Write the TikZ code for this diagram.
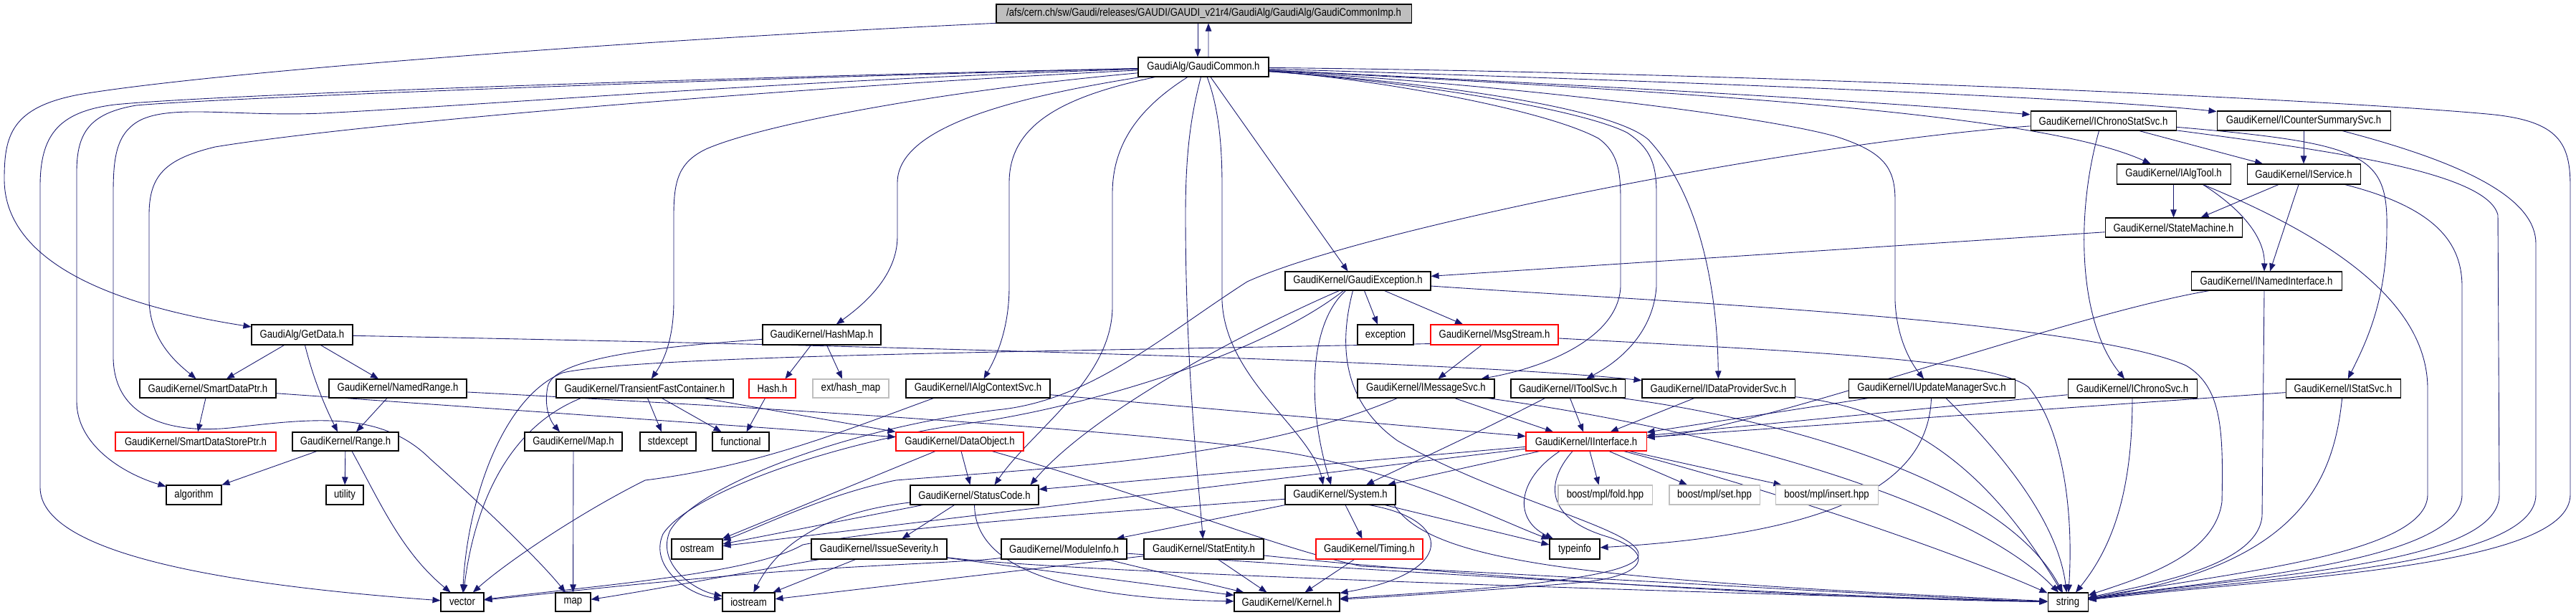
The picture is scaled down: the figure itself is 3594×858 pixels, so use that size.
\documentclass[tikz,border=0pt]{standalone}
\usepackage{fontspec}
\setmainfont{Liberation Sans}[FakeStretch=0.85]
\usetikzlibrary{arrows.meta,calc}
\pgfdeclarelayer{bg}
\pgfsetlayers{bg,main}
\definecolor{edgec}{HTML}{191970}
\definecolor{gfill}{HTML}{BFBFBF}
\definecolor{gbord}{HTML}{BFBFBF}
\newcommand\bx[7]{%
  \pgfmathsetmacro\bxw{(#4-#2)*0.02}%
  \pgfmathsetmacro\bxh{(#5-#3)*0.02}%
  \node[#6, minimum width=\bxw cm, minimum height=\bxh cm] (#1) at ({(#2+#4)/2},{(#3+#5)/2}) {#7};}
\begin{document}
\begin{tikzpicture}[x=0.02cm,y=-0.02cm,
  box/.style={draw=black,fill=white,line width=0.6pt,inner sep=0pt,font=\fontsize{8.8}{9}\selectfont},
  redbox/.style={box,draw=red},
  graybox/.style={box,draw=gbord},
  topbox/.style={box,fill=gfill},
  e/.style={draw=edgec,line width=0.5pt,-{Triangle[length=0.22cm,width=0.17cm]}}]
\useasboundingbox (0,0) rectangle (3594,858);
\bx{T}{1390}{6}{1969}{32}{topbox}{/afs/cern.ch/sw/Gaudi/releases/GAUDI/GAUDI\_v21r4/GaudiAlg/GaudiAlg/GaudiCommonImp.h}
\bx{GC}{1588}{80}{1770}{107}{box}{GaudiAlg/GaudiCommon.h}
\bx{GExc}{1793}{379}{1996}{405}{box}{GaudiKernel/GaudiException.h}
\bx{ICSS}{2833}{155}{3036}{182}{box}{GaudiKernel/IChronoStatSvc.h}
\bx{ICntS}{3093}{155}{3335}{182}{box}{GaudiKernel/ICounterSummarySvc.h}
\bx{IAlgTool}{2953}{229}{3112}{257}{box}{GaudiKernel/IAlgTool.h}
\bx{IService}{3135}{229}{3293}{257}{box}{GaudiKernel/IService.h}
\bx{StateM}{2937}{304}{3128}{331}{box}{GaudiKernel/StateMachine.h}
\bx{INamed}{3057}{379}{3267}{405}{box}{GaudiKernel/INamedInterface.h}
\bx{GetData}{351}{453}{492}{481}{box}{GaudiAlg/GetData.h}
\bx{SDP}{195}{529}{385}{555}{box}{GaudiKernel/SmartDataPtr.h}
\bx{NRange}{459}{529}{651}{555}{box}{GaudiKernel/NamedRange.h}
\bx{TFC}{776}{529}{1023}{555}{box}{GaudiKernel/TransientFastContainer.h}
\bx{SDSP}{161}{603}{385}{629}{redbox}{GaudiKernel/SmartDataStorePtr.h}
\bx{Range}{408}{603}{556}{629}{box}{GaudiKernel/Range.h}
\bx{Map}{732}{603}{868}{629}{box}{GaudiKernel/Map.h}
\bx{algorithm}{232}{677}{309}{704}{box}{algorithm}
\bx{utility}{455}{677}{507}{704}{box}{utility}
\bx{vector}{615}{827}{675}{853}{box}{vector}
\bx{map}{775}{827}{824}{853}{box}{map}
\bx{HashMap}{1064}{453}{1229}{481}{box}{GaudiKernel/HashMap.h}
\bx{Hash}{1045}{529}{1110}{555}{redbox}{Hash.h}
\bx{exthash}{1134}{529}{1240}{555}{graybox}{ext/hash\_map}
\bx{IACS}{1264}{529}{1465}{555}{box}{GaudiKernel/IAlgContextSvc.h}
\bx{stdexcept}{893}{603}{971}{629}{box}{stdexcept}
\bx{functional}{994}{603}{1073}{629}{box}{functional}
\bx{DataObj}{1250}{603}{1428}{629}{redbox}{GaudiKernel/DataObject.h}
\bx{StatusCode}{1270}{677}{1449}{704}{box}{GaudiKernel/StatusCode.h}
\bx{ostream}{937}{752}{1008}{780}{box}{ostream}
\bx{IssueSev}{1132}{752}{1321}{780}{box}{GaudiKernel/IssueSeverity.h}
\bx{ModInfo}{1397}{752}{1572}{780}{box}{GaudiKernel/ModuleInfo.h}
\bx{StatEnt}{1596}{752}{1763}{780}{box}{GaudiKernel/StatEntity.h}
\bx{iostream}{1008}{827}{1081}{853}{box}{iostream}
\bx{Kernel}{1722}{827}{1869}{853}{box}{GaudiKernel/Kernel.h}
\bx{exception}{1894}{453}{1972}{481}{box}{exception}
\bx{MsgStream}{1996}{453}{2174}{481}{redbox}{GaudiKernel/MsgStream.h}
\bx{IMsgSvc}{1894}{529}{2085}{555}{box}{GaudiKernel/IMessageSvc.h}
\bx{IToolSvc}{2108}{529}{2267}{555}{box}{GaudiKernel/IToolSvc.h}
\bx{IDPS}{2291}{529}{2504}{555}{box}{GaudiKernel/IDataProviderSvc.h}
\bx{IUMS}{2579}{529}{2811}{555}{box}{GaudiKernel/IUpdateManagerSvc.h}
\bx{IIface}{2129}{603}{2297}{629}{redbox}{GaudiKernel/IInterface.h}
\bx{System}{1793}{677}{1947}{704}{box}{GaudiKernel/System.h}
\bx{fold}{2174}{677}{2305}{704}{graybox}{boost/mpl/fold.hpp}
\bx{set}{2329}{677}{2455}{704}{graybox}{boost/mpl/set.hpp}
\bx{insert}{2477}{677}{2620}{704}{graybox}{boost/mpl/insert.hpp}
\bx{Timing}{1836}{752}{1985}{780}{redbox}{GaudiKernel/Timing.h}
\bx{typeinfo}{2162}{752}{2232}{780}{box}{typeinfo}
\bx{IChronoSvc}{2885}{529}{3065}{555}{box}{GaudiKernel/IChronoSvc.h}
\bx{IStatSvc}{3189}{529}{3349}{555}{box}{GaudiKernel/IStatSvc.h}
\bx{string}{2857}{827}{2913}{853}{box}{string}
\begin{pgfonlayer}{bg}
\fill[white] (0,0) rectangle (3594,858);
% top node
\draw[e] ($(T.south)+(-8.5,0)$) -- ($(GC.north)+(-8,0)$);
\draw[e] ($(GC.north)+(7,0)$) -- ($(T.south)+(6.5,0)$);
\draw[e] (T) .. controls (900,55) and (300,100) .. (110,132) .. controls (15,150) and (6,190) .. (6,250) .. controls (6,350) and (120,420) .. (GetData);
% GaudiCommon left
\draw[e] (GC) .. controls (1000,108) and (300,132) .. (160,146) .. controls (80,156) and (56,190) .. (56,260) -- (56,680) .. controls (56,770) and (300,815) .. (vector);
\draw[e] (GC) .. controls (1000,110) and (300,137) .. (190,147) .. controls (125,158) and (107,185) .. (107,240) -- (107,560) .. controls (107,620) and (170,660) .. (algorithm);
\draw[e] (GC) .. controls (1100,112) and (700,145) .. (450,158) .. controls (330,163) and (240,145) .. (195,168) .. controls (162,186) and (158,220) .. (158,270) -- (158,500) .. controls (160,585) and (240,605) .. (321,597) .. controls (430,585) and (530,570) .. (600,640) .. controls (690,720) and (760,790) .. (map);
\draw[e] (GC) .. controls (1100,122) and (500,172) .. (300,205) .. controls (230,222) and (208,245) .. (208,300) -- (208,420) .. controls (210,475) and (245,505) .. (SDP);
\draw[e] (GC) .. controls (1300,128) and (1060,175) .. (985,208) .. controls (948,226) and (940,250) .. (940,300) -- (940,420) .. controls (940,475) and (925,505) .. (TFC);
\draw[e] (GC) .. controls (1400,138) and (1252,180) .. (1252,255) -- (1252,330) .. controls (1252,385) and (1205,425) .. (HashMap);
\draw[e] (GC) .. controls (1480,135) and (1408,175) .. (1408,255) -- (1408,400) .. controls (1408,455) and (1392,495) .. (IACS);
\draw[e] (GC) .. controls (1590,150) and (1552,200) .. (1552,270) -- (1552,430) .. controls (1550,530) and (1440,600) .. ($(StatusCode.north)+(28,0)$);
\draw[e] (GC) .. controls (1662,160) and (1654,210) .. (1654,300) .. controls (1654,500) and (1670,650) .. (StatEnt);
\draw[e] (GC) .. controls (1700,150) and (1705,200) .. (1705,260) -- (1705,420) .. controls (1710,530) and (1830,600) .. ($(System.north)+(-24,0)$);
\draw[e] ($(GC.south)+(10,0)$) -- ($(GExc.north)+(-14,0)$);
% GaudiCommon right
\draw[e] (GC) .. controls (1900,108) and (2150,150) .. (2230,193) .. controls (2258,213) and (2261,240) .. (2261,280) -- (2261,400) .. controls (2258,470) and (2160,512) .. (IMsgSvc);
\draw[e] (GC) .. controls (1950,112) and (2200,150) .. (2270,185) .. controls (2305,208) and (2311,232) .. (2311,270) -- (2311,400) .. controls (2306,470) and (2252,508) .. (IToolSvc);
\draw[e] (GC) .. controls (2000,115) and (2250,150) .. (2300,195) .. controls (2370,270) and (2396,400) .. (IDPS);
\draw[e] (GC) .. controls (2100,118) and (2450,160) .. (2560,190) .. controls (2630,212) and (2644,235) .. (2644,280) -- (2644,420) .. controls (2646,470) and (2665,505) .. (IUMS);
\draw[e] (GC) .. controls (2400,130) and (2850,160) .. (IAlgTool);
\draw[e] (GC) .. controls (2200,118) and (2600,140) .. (ICSS);
\draw[e] (GC) .. controls (2300,112) and (2900,135) .. (ICntS);
\draw[e] (GC) .. controls (2500,102) and (3300,142) .. (3480,160) .. controls (3570,170) and (3586,200) .. (3586,260) -- (3586,690) .. controls (3586,790) and (3200,805) .. (string);
% right cluster
\draw[e] ($(ICSS.south)+(50,0)$) -- ($(IService.north)+(-57,0)$);
\draw[e] (ICntS) -- (IService);
\draw[e] ($(ICSS.south)+(-6,0)$) .. controls (2895,300) and (2900,450) .. (IChronoSvc);
\draw[e] (ICSS) .. controls (3300,200) and (3332,215) .. (3330,320) .. controls (3330,420) and (3300,480) .. (IStatSvc);
\draw[e] (ICSS) .. controls (3250,210) and (3470,240) .. (3485,300) -- (3487,690) .. controls (3487,790) and (3150,802) .. (string);
\draw[e] (ICSS) .. controls (2500,200) and (1900,320) .. (1740,393) .. controls (1620,470) and (1520,560) .. (1390,572) .. controls (1170,600) and (970,680) .. (935,740) .. controls (915,785) and (965,822) .. (iostream);
\draw[e] (IAlgTool) -- (StateM);
\draw[e] ($(IService.south)+(-35,0)$) -- ($(StateM.north)+(38,0)$);
\draw[e] ($(IAlgTool.south)+(41,0)$) .. controls (3140,300) and (3160,340) .. ($(INamed.north)+(-3,0)$);
\draw[e] ($(IService.south)+(-7,0)$) -- ($(INamed.north)+(5,0)$);
\draw[e] (IService) .. controls (3400,290) and (3435,340) .. (3435,400) -- (3435,690) .. controls (3435,785) and (3100,808) .. (string);
\draw[e] (ICntS) .. controls (3450,230) and (3538,280) .. (3538,340) -- (3538,690) .. controls (3538,792) and (3150,806) .. (string);
\draw[e] ($(IAlgTool.south)+(41,0)$) .. controls (3250,330) and (3385,420) .. (3387,540) -- (3387,690) .. controls (3387,775) and (3100,800) .. (string);
\draw[e] (StateM) -- (GExc);
\draw[e] (INamed) .. controls (2880,440) and (2450,600) .. (IIface);
\draw[e] ($(INamed.south)+(-3,0)$) -- (3156,720) .. controls (3150,790) and (3000,815) .. (string);
\draw[e] (IChronoSvc) -- (IIface);
\draw[e] (IChronoSvc) .. controls (2975,680) and (2950,760) .. (string);
\draw[e] (IStatSvc) -- (IIface);
\draw[e] (IStatSvc) .. controls (3255,680) and (3200,790) .. (string);
\draw[e] (IUMS) -- (IIface);
\draw[e] (IUMS) .. controls (2690,680) and (2550,745) .. (typeinfo);
\draw[e] ($(IUMS.south)+(20,0)$) .. controls (2780,620) and (2870,720) .. (string);
\draw[e] (IDPS) -- (IIface);
\draw[e] (IDPS) .. controls (2700,575) and (2800,700) .. (string);
\draw[e] ($(IToolSvc.south)+(3,0)$) -- ($(IIface.north)+(-4,0)$);
\draw[e] ($(IToolSvc.south)+(-32,0)$) .. controls (2050,610) and (1960,650) .. ($(System.north)+(36,0)$);
\draw[e] ($(IToolSvc.south east)+(-5,0)$) .. controls (2450,580) and (2790,660) .. (string);
\draw[e] ($(IMsgSvc.south)+(40,0)$) -- ($(IIface.north)+(-46,0)$);
\draw[e] ($(IMsgSvc.south)+(86,0)$) .. controls (2400,600) and (2750,700) .. (string);
\draw[e] ($(IMsgSvc.south)+(-40,0)$) .. controls (1750,640) and (1500,650) .. (1250,670) .. controls (1150,690) and (1050,740) .. (ostream);
\draw[e] ($(MsgStream.south)+(-18,0)$) -- ($(IMsgSvc.north)+(17,0)$);
\draw[e] ($(MsgStream.south west)+(0,-2)$) .. controls (1500,490) and (900,495) .. (785,520) .. controls (700,555) and (652,700) .. (vector);
\draw[e] (MsgStream) .. controls (2500,490) and (2780,500) .. (2830,540) .. controls (2880,600) and (2893,720) .. (string);
% GaudiException
\draw[e] (GExc) .. controls (2300,420) and (2900,445) .. (3050,510) .. controls (3100,540) and (3102,600) .. (3100,700) .. controls (3090,775) and (2990,805) .. (string);
\draw[e] ($(GExc.south)+(9,0)$) -- ($(exception.north)+(-11,0)$);
\draw[e] ($(GExc.south)+(37,0)$) -- ($(MsgStream.north)+(-44,0)$);
\draw[e] ($(GExc.south)+(-17,0)$) .. controls (1828,450) and (1822,560) .. ($(System.north)+(-13,0)$);
\draw[e] ($(GExc.south)+(-26,0)$) .. controls (1720,470) and (1520,580) .. ($(StatusCode.north)+(78,0)$);
\draw[e] ($(GExc.south)+(-20,0)$) .. controls (1760,495) and (1520,565) .. (1370,588) .. controls (1160,615) and (960,690) .. (925,745) .. controls (905,790) and (960,830) .. (iostream);
\draw[e] ($(GExc.south)+(-7,0)$) .. controls (1868,480) and (1872,560) .. (1950,615) .. controls (2100,700) and (2292,740) .. (2286,775) .. controls (2280,812) and (2000,826) .. (Kernel);
% IInterface
\draw[e] ($(IIface.south)+(5,0)$) -- ($(fold.north)+(-9,0)$);
\draw[e] ($(IIface.south)+(32,0)$) -- ($(set.north)+(-38,0)$);
\draw[e] ($(IIface.south)+(60,0)$) -- ($(insert.north)+(-63,0)$);
\draw[e] ($(IIface.south)+(-37,0)$) .. controls (2115,670) and (2112,725) .. (typeinfo);
\draw[e] ($(IIface.south)+(-19,0)$) .. controls (2150,680) and (2165,725) .. (2240,748) .. controls (2312,770) and (2300,805) .. (2200,813) .. controls (2100,822) and (1950,832) .. (Kernel);
\draw[e] ($(IIface.south)+(-65,0)$) -- ($(System.north)+(66,0)$);
\draw[e] (IIface) -- (StatusCode);
\draw[e] (IIface) -- (ostream);
\draw[e] (IIface) .. controls (2500,690) and (2750,780) .. (string);
% System
\draw[e] ($(System.south)+(7,0)$) -- ($(Timing.north)+(-10,0)$);
\draw[e] ($(System.south)+(-77,0)$) -- ($(ModInfo.north)+(73,0)$);
\draw[e] ($(System.south)+(62,0)$) -- ($(typeinfo.west)+(0,-6)$);
\draw[e] ($(System.south)+(40,0)$) .. controls (2030,725) and (2030,800) .. (Kernel);
\draw[e] ($(System.south)+(75,0)$) .. controls (2000,790) and (2250,810) .. (string);
\draw[e] (System) .. controls (1500,718) and (1250,735) .. (1120,760) .. controls (1050,800) and (850,815) .. (vector);
% ModuleInfo, StatEntity, IssueSeverity, Timing
\draw[e] ($(ModInfo.south)+(60,0)$) -- ($(Kernel.north west)+(14,0)$);
\draw[e] (ModInfo) .. controls (1900,795) and (2500,832) .. (string);
\draw[e] (ModInfo) .. controls (1350,785) and (1150,790) .. (1000,805) .. controls (850,818) and (750,830) .. (vector);
\draw[e] ($(StatEnt.south)+(20,0)$) -- ($(Kernel.north)+(-28,0)$);
\draw[e] (StatEnt) -- (iostream);
\draw[e] ($(StatEnt.east)+(0,9)$) .. controls (2000,800) and (2500,835) .. (string);
\draw[e] ($(Timing.south)+(-21,0)$) -- ($(Kernel.north)+(25,0)$);
\draw[e] (IssueSev) .. controls (1060,795) and (900,825) .. (map);
\draw[e] ($(IssueSev.south)+(-33,0)$) -- (iostream);
\draw[e] (IssueSev) -- (Kernel);
\draw[e] (IssueSev) .. controls (1500,800) and (2400,828) .. (string);
% StatusCode, DataObject
\draw[e] ($(StatusCode.south)+(-28,0)$) -- ($(IssueSev.north)+(32,0)$);
\draw[e] (StatusCode) .. controls (1360,790) and (1480,835) .. (Kernel);
\draw[e] (StatusCode) -- (ostream);
\draw[e] (StatusCode) .. controls (1150,715) and (1085,760) .. (iostream);
\draw[e] ($(DataObj.south)+(2,0)$) -- ($(StatusCode.north)+(-6,0)$);
\draw[e] ($(DataObj.south)+(-34,0)$) -- (ostream);
\draw[e] ($(DataObj.south)+(45,0)$) .. controls (1600,690) and (1780,765) .. (1900,790) .. controls (2300,810) and (2700,835) .. (string);
% left-middle cluster
\draw[e] ($(TFC.south)+(82,0)$) -- (DataObj.north west);
\draw[e] ($(TFC.south)+(4,0)$) -- ($(stdexcept.north)+(-9,0)$);
\draw[e] ($(TFC.south)+(24,0)$) -- ($(functional.north)+(-27,0)$);
\draw[e] ($(TFC.south)+(-89,0)$) .. controls (700,600) and (660,720) .. (vector);
\draw[e] ($(HashMap.south)+(-15,0)$) -- ($(Hash.north)+(18,0)$);
\draw[e] ($(HashMap.south)+(7,0)$) -- ($(exthash.north)+(-12,0)$);
\draw[e] (HashMap) .. controls (950,482) and (772,495) .. (764,540) .. controls (758,572) and (770,590) .. ($(Map.north)+(-19,0)$);
\draw[e] ($(Hash.south)+(-10,0)$) -- ($(functional.north)+(8,0)$);
\draw[e] (Map) -- (map);
\draw[e] ($(Range.south)+(-40,0)$) -- ($(algorithm.north)+(39,0)$);
\draw[e] (Range) -- (utility);
\draw[e] ($(Range.south)+(9,0)$) .. controls (530,700) and (560,770) .. (vector);
\draw[e] ($(NRange.south)+(-15,0)$) -- ($(Range.north)+(15,0)$);
\draw[e] (NRange) .. controls (1000,565) and (1600,600) .. (1800,632) .. controls (1960,660) and (2090,725) .. (typeinfo);
\draw[e] ($(GetData.south)+(-25,0)$) -- ($(SDP.north)+(26,0)$);
\draw[e] ($(GetData.south)+(26,0)$) -- ($(NRange.north)+(-27,0)$);
\draw[e] ($(GetData.south)+(4,0)$) .. controls (440,540) and (460,580) .. ($(Range.north)+(-11,0)$);
\draw[e] (GetData) .. controls (1000,478) and (2000,500) .. (IDPS);
\draw[e] ($(SDP.south)+(-3,0)$) -- ($(SDSP.north)+(3,0)$);
\draw[e] (SDP) -- (DataObj);
\draw[e] ($(IACS.south)+(-62,0)$) .. controls (1180,600) and (1060,650) .. (900,670) .. controls (800,720) and (700,790) .. (vector);
\draw[e] (IACS) -- (IIface);
\end{pgfonlayer}
\end{tikzpicture}
\end{document}
